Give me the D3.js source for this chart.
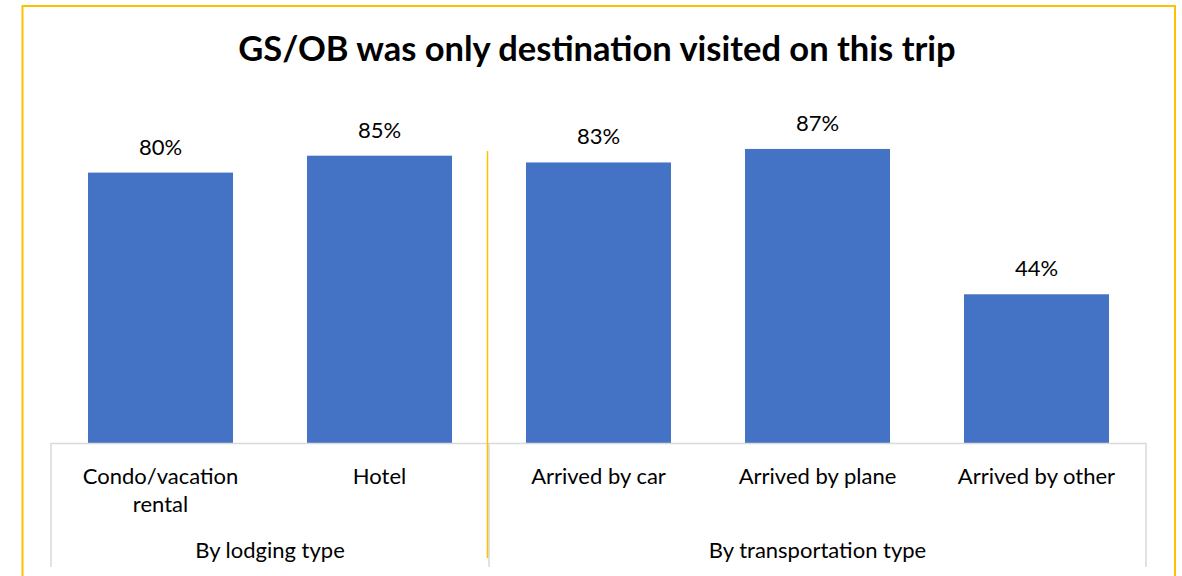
<!DOCTYPE html>
<html>
<head>
<meta charset="utf-8">
<script src="https://cdn.jsdelivr.net/npm/d3@7"></script>
<style>
  html, body { margin: 0; padding: 0; background: #fff; }
  svg { display: block; }
  text { font-family: Lato, "Open Sans", sans-serif; fill: #000; }
</style>
</head>
<body>
<svg id="chart" width="1182" height="576"></svg>
<script>
// Share of trips where GS/OB was the only destination visited
const categories = ["Condo/vacation rental", "Hotel", "Arrived by car", "Arrived by plane", "Arrived by other"];
const categoryLines = [["Condo/vacation", "rental"], ["Hotel"], ["Arrived by car"], ["Arrived by plane"], ["Arrived by other"]];
const values = [0.80, 0.85, 0.83, 0.87, 0.44];
const groups = ["By lodging type", "By transportation type"];
const groupMembers = [["Condo/vacation rental", "Hotel"], ["Arrived by car", "Arrived by plane", "Arrived by other"]];
const title = "GS/OB was only destination visited on this trip";

const svg = d3.select("#chart");
const W = 1182, H = 576;
const plot = { left: 51, right: 1146, top: 105, bottom: 443 };
const labelSize = "22px";

// Outer frame
svg.append("rect")
  .attr("x", 22.5).attr("y", 6)
  .attr("width", 1175 - 22.5).attr("height", H + 20)
  .attr("fill", "none").attr("stroke", "#FFC000").attr("stroke-width", 2);

// Title
svg.append("text")
  .attr("x", 597).attr("y", 61)
  .attr("text-anchor", "middle")
  .style("font-weight", "bold").style("font-size", "34.5px")
  .text(title);

const x = d3.scaleBand()
  .domain(categories)
  .range([plot.left, plot.right])
  .paddingInner(0.338)
  .paddingOuter(0.169);

const y = d3.scaleLinear().domain([0, 1]).range([plot.bottom, plot.top]);

// Bars
svg.append("g").selectAll("rect")
  .data(categories)
  .join("rect")
  .attr("x", d => x(d))
  .attr("y", (d, i) => y(values[i]))
  .attr("width", x.bandwidth())
  .attr("height", (d, i) => y(0) - y(values[i]))
  .attr("fill", "#4472C4");

// Value labels
svg.append("g").selectAll("text")
  .data(categories)
  .join("text")
  .attr("x", d => x(d) + x.bandwidth() / 2)
  .attr("y", (d, i) => y(values[i]) - 18)
  .attr("text-anchor", "middle")
  .style("font-size", labelSize)
  .text((d, i) => d3.format(".0%")(values[i]));

// Multi-level category axis
const axisColor = "#D9D9D9";
const axisG = svg.append("g");
axisG.append("line")
  .attr("x1", plot.left).attr("x2", plot.right)
  .attr("y1", plot.bottom + 0.5).attr("y2", plot.bottom + 0.5)
  .attr("stroke", axisColor).attr("stroke-width", 1.5);

// Group boundaries
const step = x.step();
const bounds = [plot.left];
groupMembers.forEach(m => {
  const last = m[m.length - 1];
  bounds.push(x(last) + x.bandwidth() + (step - x.bandwidth()) / 2);
});
axisG.selectAll("line.sep")
  .data(bounds)
  .join("line")
  .attr("class", "sep")
  .attr("x1", d => d).attr("x2", d => d)
  .attr("y1", plot.bottom).attr("y2", 567)
  .attr("stroke", axisColor).attr("stroke-width", 1.5);

// Category labels
const catG = svg.append("g");
categories.forEach((c, i) => {
  const t = catG.append("text")
    .attr("x", x(c) + x.bandwidth() / 2)
    .attr("y", 484)
    .attr("text-anchor", "middle")
    .style("font-size", labelSize);
  categoryLines[i].forEach((ln, j) => {
    t.append("tspan")
      .attr("x", x(c) + x.bandwidth() / 2)
      .attr("dy", j === 0 ? 0 : 28)
      .text(ln);
  });
});

// Group labels
svg.append("g").selectAll("text")
  .data(groups)
  .join("text")
  .attr("x", (d, i) => (bounds[i] + bounds[i + 1]) / 2)
  .attr("y", 558)
  .attr("text-anchor", "middle")
  .style("font-size", labelSize)
  .text(d => d);

// Divider between lodging and transportation groups
svg.append("line")
  .attr("x1", bounds[1] - 1.5).attr("x2", bounds[1] - 1.5)
  .attr("y1", 151).attr("y2", 558)
  .attr("stroke", "#FFC000").attr("stroke-width", 1.5);
</script>
</body>
</html>
